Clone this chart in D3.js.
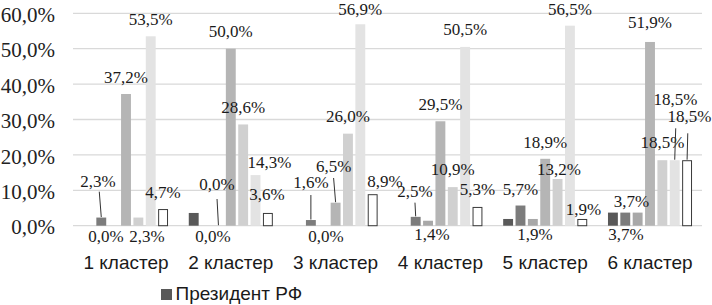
<!DOCTYPE html>
<html>
<head>
<meta charset="utf-8">
<script src="https://cdn.jsdelivr.net/npm/d3@7/dist/d3.min.js"></script>
<style>
  html, body { margin: 0; padding: 0; background: #fff; }
  svg { display: block; }
</style>
</head>
<body>
<svg id="chart" width="712" height="305"></svg>
<script>
// ---- data ----
const categories = ["1 кластер", "2 кластер", "3 кластер", "4 кластер", "5 кластер", "6 кластер"];
const seriesNames = ["Президент РФ", "Серия 2", "Серия 3", "Серия 4", "Серия 5", "Серия 6", "Серия 7"];
const s0 = [0.0, 3.6, 0.0, 0.0, 1.9, 3.7];
const s1 = [2.3, 0.0, 1.6, 2.5, 5.7, 3.7];
const s2 = [0.0, 0.0, 0.0, 1.4, 1.9, 3.7];
const s3 = [37.2, 50.0, 6.5, 29.5, 18.9, 51.9];
const s4 = [2.3, 28.6, 26.0, 10.9, 13.2, 18.5];
const s5 = [53.5, 14.3, 56.9, 50.5, 56.5, 18.5];
const s6 = [4.7, 3.6, 8.9, 5.3, 1.9, 18.5];
const seriesValues = [s0, s1, s2, s3, s4, s5, s6];
const yTicks = [0, 10, 20, 30, 40, 50, 60];
const legendShown = ["Президент РФ"];

// ---- styles ----
const colors = ["#595959", "#7c7c7c", "#a8a8a8", "#b5b5b5", "#d0d0d0", "#e3e3e3", "#ffffff"];

// label layout: series, category, offset from default position, optional leader line start offset
const labelLayout = [
  {s:1,c:0,dx:-3.3,dy:-18.6,lead:4.7,lx:1.3},
  {s:2,c:0,dx:-7.6,dy:28},
  {s:3,c:0,dx:0,dy:1},
  {s:4,c:0,dx:8.7,dy:36.1},
  {s:5,c:0,dx:0,dy:0.7},
  {s:6,c:0,dx:0,dy:1},
  {s:1,c:1,dx:6.9,dy:28},
  {s:2,c:1,dx:-1.4,dy:-23.7,lead:9,lx:0},
  {s:3,c:1,dx:0,dy:0},
  {s:4,c:1,dx:0,dy:0.5},
  {s:5,c:1,dx:14,dy:5},
  {s:6,c:1,dx:-0.8,dy:-1},
  {s:1,c:2,dx:0,dy:-20,lead:7,lx:0},
  {s:2,c:2,dx:2.8,dy:28},
  {s:3,c:2,dx:-2,dy:-18.7,lead:6,lx:0},
  {s:4,c:2,dx:0,dy:0},
  {s:5,c:2,dx:0,dy:3},
  {s:6,c:2,dx:12.4,dy:4.5},
  {s:1,c:3,dx:-0.7,dy:-8.2,lead:6,lx:0},
  {s:2,c:3,dx:4,dy:31.3},
  {s:3,c:3,dx:0,dy:0.7},
  {s:4,c:3,dx:0,dy:0},
  {s:5,c:3,dx:0,dy:0},
  {s:6,c:3,dx:0,dy:0},
  {s:1,c:4,dx:0,dy:1.5},
  {s:2,c:4,dx:2.2,dy:33},
  {s:3,c:4,dx:0,dy:1},
  {s:4,c:4,dx:1.5,dy:8},
  {s:5,c:4,dx:0,dy:0.8},
  {s:6,c:4,dx:1.3,dy:8},
  {s:1,c:5,dx:6.2,dy:6},
  {s:2,c:5,dx:-11.6,dy:39.4},
  {s:3,c:5,dx:0,dy:-1.7},
  {s:4,c:5,dx:0,dy:0},
  {s:5,c:5,dx:0.8,dy:-43.2,lead:23.3,lx:0.2},
  {s:6,c:5,dx:2.5,dy:-26.5,lead:11.6,lx:-1.8}
];

const svg = d3.select("#chart");
const x0 = d3.scaleBand().domain(categories).range([73.6, 702.4]).paddingInner(0.198).paddingOuter(0.099);
const x1 = d3.scaleBand().domain(d3.range(seriesValues.length)).range([0, x0.bandwidth()]).paddingInner(0.2).paddingOuter(0);
const y = d3.scaleLinear().domain([0, 60]).range([225.7, 13.3]);

const fmt = v => v.toFixed(1).replace(".", ",") + "%";

// gridlines
svg.append("g").selectAll("line").data(yTicks).join("line")
  .attr("x1", 73).attr("x2", 702)
  .attr("y1", d => y(d)).attr("y2", d => y(d))
  .attr("stroke", "#d9d9d9").attr("stroke-width", 1.3);

// y axis labels
const yAxis = d3.axisLeft(y).tickValues(yTicks).tickSize(0).tickPadding(0).tickFormat(fmt);
const ya = svg.append("g").attr("transform", "translate(55,1.5)").call(yAxis);
ya.select(".domain").remove();
ya.selectAll("text").attr("font-family", "'Liberation Serif', 'Times New Roman', serif")
  .attr("font-size", 21).attr("fill", "#222");

// bars
seriesValues.forEach((vals, si) => {
  svg.append("g").selectAll("rect").data(vals.map((v, ci) => ({v, ci}))).join("rect")
    .attr("x", d => x0(categories[d.ci]) + x1(si) + (si === 6 ? 0.5 : 0))
    .attr("width", x1.bandwidth() - (si === 6 ? 1 : 0))
    .attr("y", d => y(d.v) + (si === 6 ? 0.5 : 0))
    .attr("height", d => Math.max(0, y(0) - y(d.v) - (si === 6 ? 0.5 : 0)))
    .attr("fill", colors[si])
    .attr("stroke", si === 6 ? "#3a3a3a" : "none")
    .attr("stroke-width", si === 6 ? 1 : 0)
    .style("display", d => d.v > 0 ? null : "none");
});

// data labels
const lg = svg.append("g");
labelLayout.forEach(L => {
  const v = seriesValues[L.s][L.c];
  const cx = x0(categories[L.c]) + x1(L.s) + x1.bandwidth() / 2;
  const top = y(v);
  const lx = cx + L.dx;
  const ly = top - 12 + L.dy;
  if (L.lead !== undefined) {
    lg.append("line")
      .attr("x1", lx + L.lx).attr("y1", ly + L.lead)
      .attr("x2", cx).attr("y2", top - 0.5)
      .attr("stroke", "#333").attr("stroke-width", 1);
  }
  lg.append("text").attr("x", lx).attr("y", ly)
    .attr("text-anchor", "middle")
    .attr("font-family", "'Liberation Serif', 'Times New Roman', serif")
    .attr("font-size", 17).attr("fill", "#1a1a1a")
    .text(fmt(v));
});

// category labels
svg.append("g").selectAll("text").data(categories).join("text")
  .attr("x", d => x0(d) + x0.bandwidth() / 2)
  .attr("y", 268.5)
  .attr("text-anchor", "middle")
  .attr("font-family", "'Liberation Sans', Arial, sans-serif")
  .attr("font-size", 19).attr("fill", "#1a1a1a")
  .text(d => d);

// legend
const leg = svg.append("g").selectAll("g").data(legendShown).join("g");
leg.append("rect").attr("x", 161).attr("y", 289).attr("width", 11).attr("height", 11)
  .attr("fill", (d) => colors[seriesNames.indexOf(d)]);
leg.append("text").attr("x", 175.5).attr("y", 300)
  .attr("font-family", "'Liberation Sans', Arial, sans-serif")
  .attr("font-size", 19).attr("fill", "#1a1a1a")
  .text(d => d);
</script>
</body>
</html>
